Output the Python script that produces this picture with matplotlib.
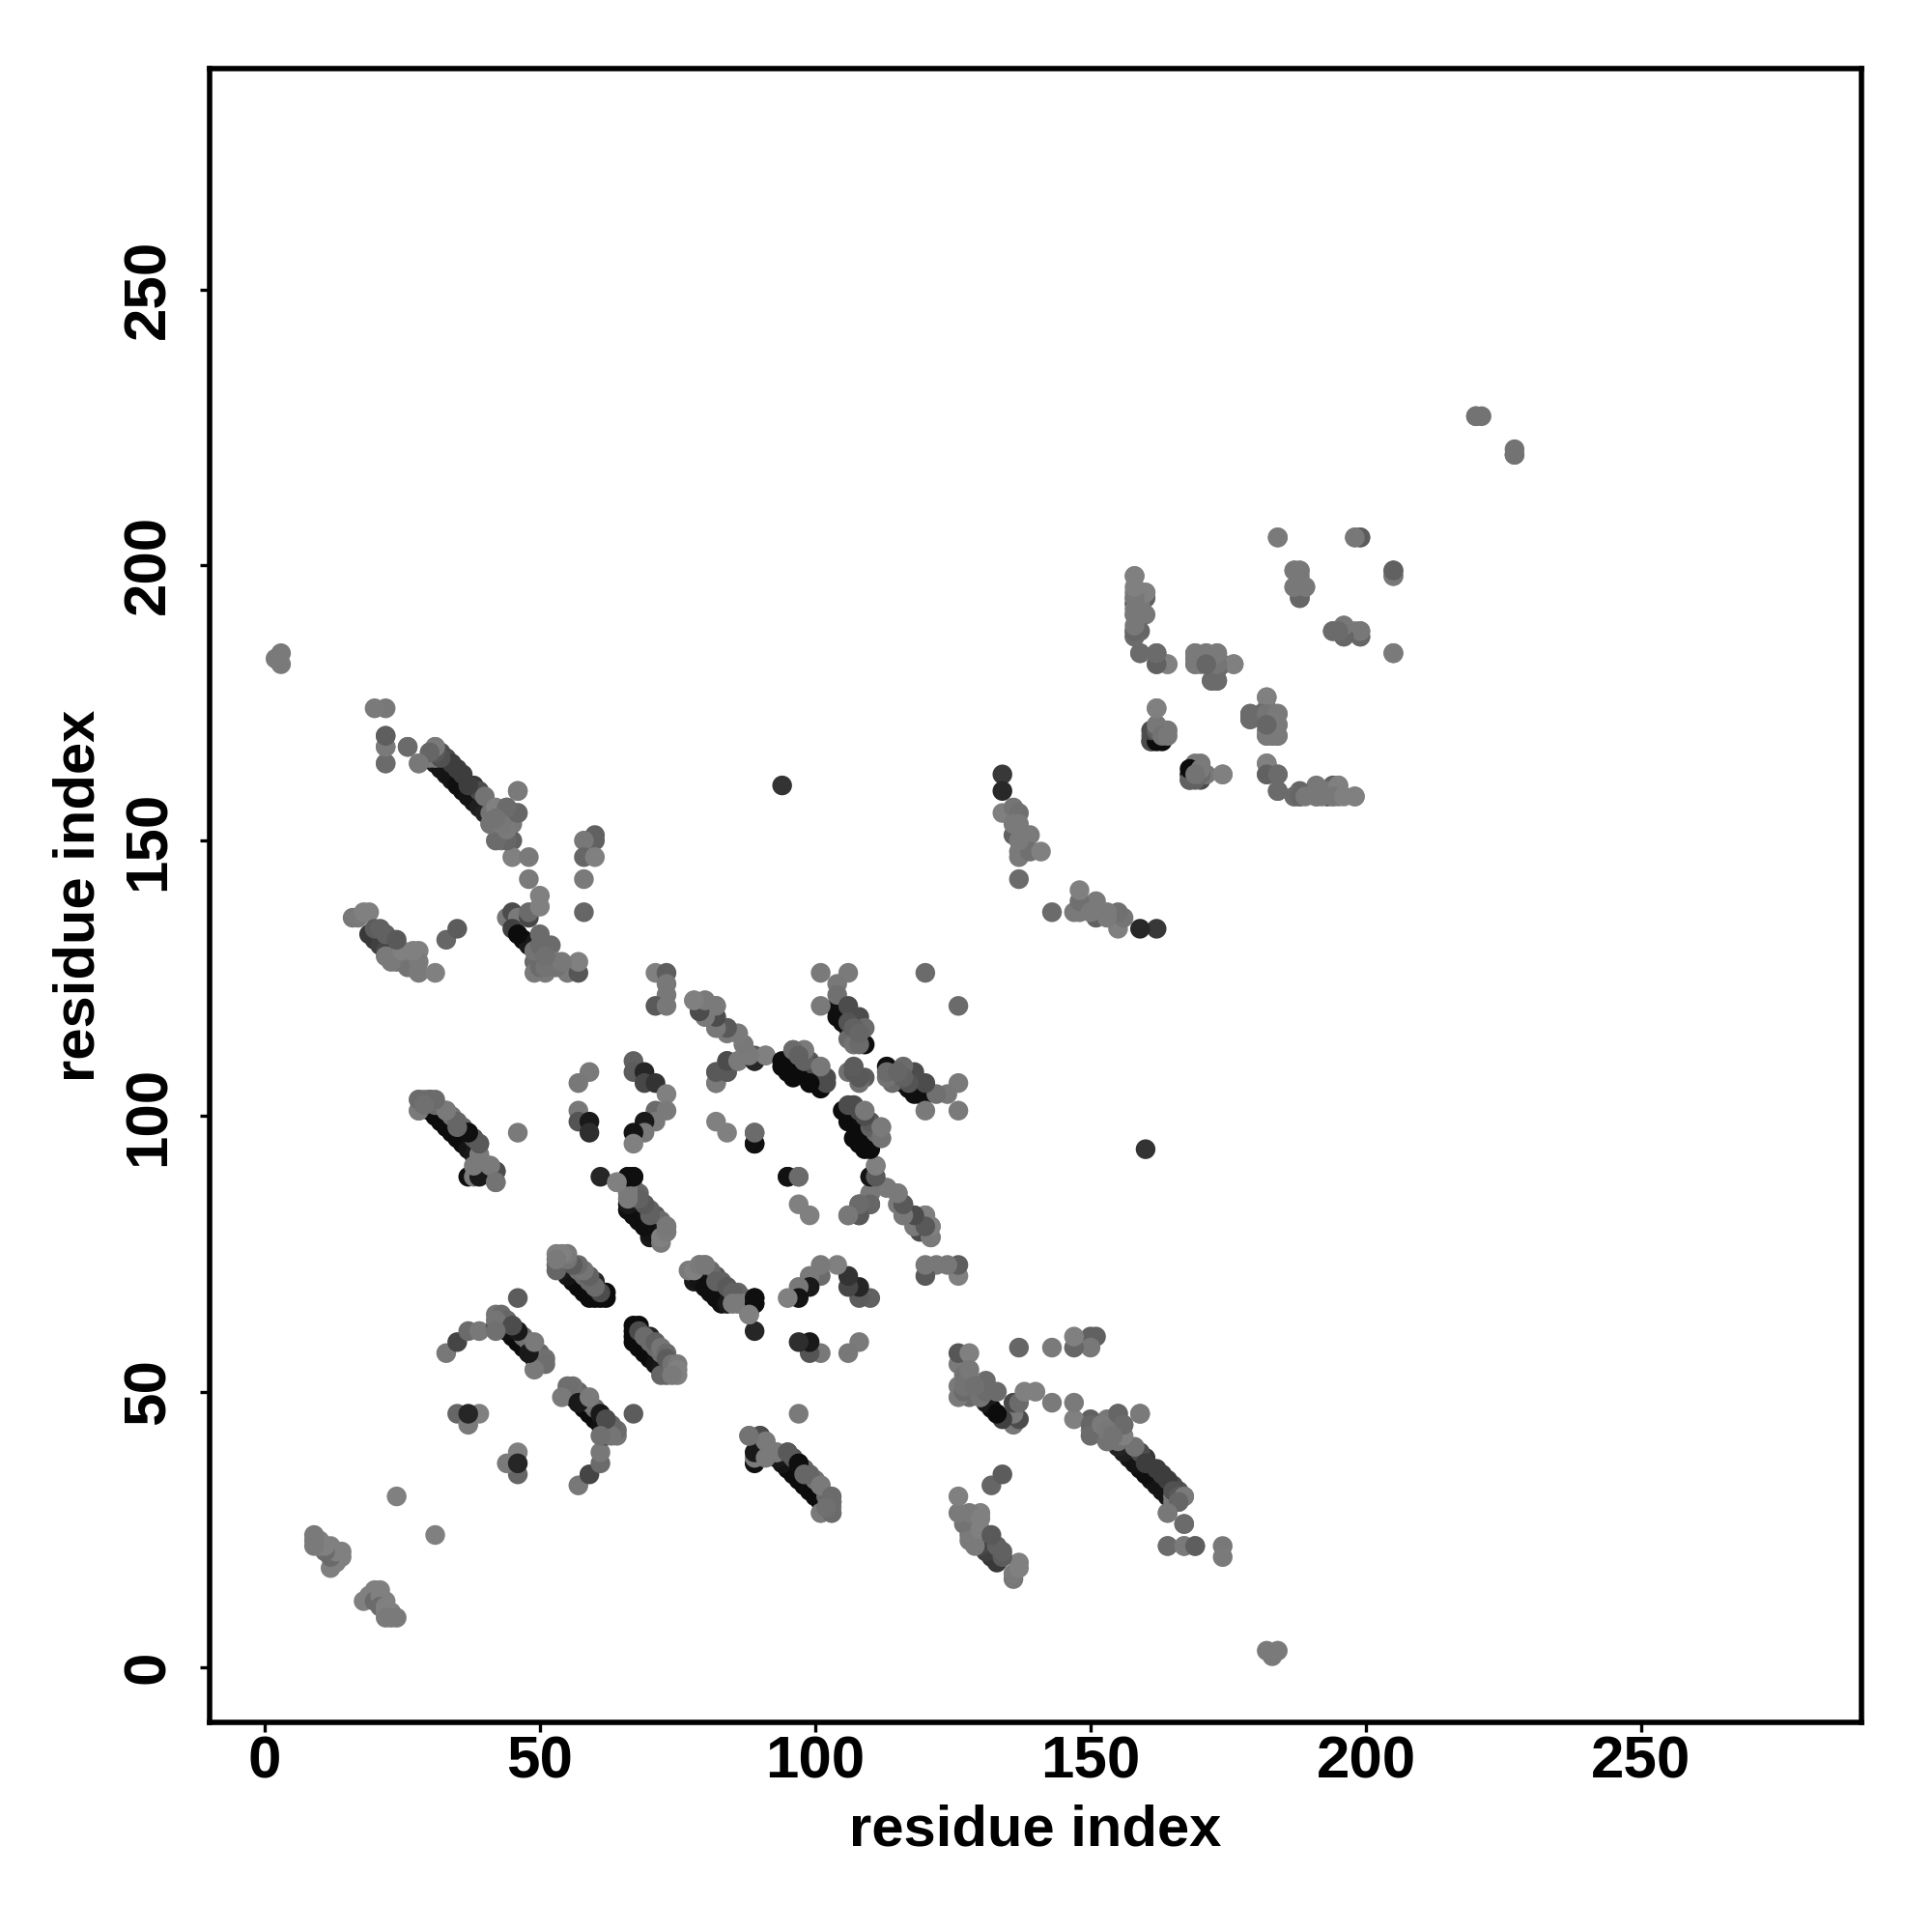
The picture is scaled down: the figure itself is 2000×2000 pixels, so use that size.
import matplotlib
matplotlib.use('Agg')
from matplotlib import pyplot as plt

# contacts, one triangle only: each one is drawn as (i, j) and (j, i)
# i, j = residue index, s = grey level
i_ends = [3, 3, 2]
j_ends = [182, 184, 183]
s_ends = [.48, .48, .48]

i_nterm = [18, 19, 20, 21, 20, 21, 22, 21, 22, 22, 23, 22, 23, 24, 31]
j_nterm = [12, 13, 14, 14, 12, 13, 12, 11, 11, 10, 10, 9, 9, 9, 24]
s_nterm = [.5, .5, .5, .5, .42, .5, .5, .42, .5, .5, .5, .48, .48, .48, .5]

i_16 = [19, 20, 21, 22, 23, 24, 26, 28, 28, 28, 31, 22, 23, 25, 27, 16, 17, 18, 19, 20, 21, 22, 24, 33, 35]
j_16 = [133, 132, 131, 130, 129, 128, 127, 130, 128, 126, 126, 129, 128, 130, 130, 136, 136, 137, 137, 134, 134, 133, 132, 132, 134]
s_16 = [.22, .22, .25, .28, .4, .45, .45, .5, .48, .48, .5, .48, .48, .5, .5, .47, .48, .5, .5, .36, .38, .38, .35, .4, .36]

i_29 = [22, 22, 22, 26, 28, 31, 32, 33, 34, 35, 36, 37, 38, 39, 40, 30, 31, 31, 32, 33, 34, 35, 36, 38, 39, 40, 41, 42, 42, 43, 44, 46, 45, 45, 43, 43, 46, 45, 48, 48, 30, 32, 37, 41]
j_29 = [169, 167, 164, 167, 164, 164, 163, 162, 161, 160, 159, 158, 157, 156, 155, 166, 165, 167, 166, 165, 164, 163, 162, 160, 159, 158, 155, 156, 154, 152, 156, 155, 153, 150, 150, 152, 159, 147, 147, 143, 165, 165, 160, 153]
s_29 = [.4, .48, .5, .43, .5, .1, .08, .08, .08, .06, .06, .08, .08, .12, .14, .48, .5, .5, .32, .3, .24, .24, .24, .22, .3, .45, .45, .5, .42, .45, .5, .44, .47, .38, .5, .42, .5, .5, .48, .48, .48, .32, .24, .5]

i_28 = [30, 31, 32, 33, 34, 35, 36, 37, 38, 28, 28, 29, 30, 31, 33, 34, 35, 36, 37, 38, 39, 39, 37, 38, 39, 38, 41, 42, 42]
j_28 = [101, 100, 99, 98, 97, 96, 95, 94, 93, 103, 101, 103, 103, 102, 101, 100, 99, 98, 97, 96, 95, 93, 89, 89, 89, 91, 91, 90, 88]
s_28 = [.05, .05, .05, .05, .05, .05, .05, .08, .1, .48, .5, .48, .42, .42, .5, .45, .4, .4, .08, .33, .33, .48, .06, .48, .1, .48, .47, .22, .48]

i_89 = [90, 91, 88, 93, 95, 97, 98, 101, 103, 101, 103, 103, 102]
j_89 = [42, 41, 42, 39, 39, 37, 35, 33, 31, 28, 28, 30, 29]
s_89 = [.3, .48, .45, .48, .35, .06, .4, .48, .42, .48, .42, .42, .44]

i_33 = [33, 35, 37, 39, 35, 39, 37, 37, 46, 46]
j_33 = [57, 59, 61, 61, 46, 46, 44, 46, 67, 97]
s_33 = [.47, .27, .42, .47, .4, .5, .48, .15, .36, .48]

i_42 = [55, 56, 57, 58, 59, 60, 61, 62, 62, 64, 64, 63, 62, 60, 59, 58, 57, 56, 55, 63, 54, 61, 62, 57, 59, 61]
j_42 = [50, 49, 48, 47, 46, 45, 44, 43, 42, 42, 43, 44, 45, 47, 48, 49, 50, 51, 51, 42, 49, 46, 45, 48, 49, 42]
s_42 = [.05, .05, .05, .05, .05, .05, .07, .1, .3, .46, .42, .4, .4, .42, .45, .42, .4, .44, .43, .46, .48, .1, .3, .1, .48, .44]

i_44 = [44, 45, 46, 48, 45, 47, 48, 46, 48, 50, 50, 52, 49, 49, 51, 51, 53, 55, 55, 57, 57, 50, 50, 49, 50, 51, 52, 53, 54, 49, 50, 51]
j_44 = [136, 137, 136, 136, 134, 132, 131, 133, 137, 140, 138, 131, 128, 126, 126, 128, 128, 127, 126, 126, 128, 133, 129, 130, 127, 127, 128, 127, 128, 130, 131, 129]
s_44 = [.47, .3, .48, .28, .25, .05, .1, .05, .42, .5, .5, .42, .42, .48, .48, .5, .5, .48, .48, .34, .5, .42, .42, .45, .42, .45, .45, .45, .47, .45, .42, .44]

i_58 = [60, 60, 58, 58, 60, 58, 58]
j_58 = [151, 150, 150, 147, 147, 143, 137]
s_58 = [.38, .38, .47, .4, .5, .48, .4]

i_66 = [61, 64, 66, 67, 66, 66, 66, 66, 66, 66, 67, 67, 68, 68, 69, 70, 70, 71, 72, 68, 69, 70, 71, 69, 71, 72, 73, 73]
j_66 = [89, 88, 89, 89, 88, 87, 86, 85, 84, 83, 87, 85, 86, 81, 80, 79, 78, 78, 79, 83, 82, 81, 80, 84, 82, 81, 80, 79]
s_66 = [.15, .45, .07, .07, .1, .3, .3, .3, .1, .1, .46, .46, .4, .06, .08, .08, .4, .2, .2, .4, .42, .4, .4, .3, .35, .42, .5, .46]

i_57 = [59, 57, 57, 57, 59, 59]
j_57 = [108, 106, 101, 99, 99, 97]
s_57 = [.48, .47, .47, .33, .1, .18]

i_67 = [67, 67, 67, 68, 69, 70, 71, 72, 73, 72, 68, 67, 70, 68, 69, 70, 71, 72, 71, 72, 73, 73, 74, 75, 75, 75, 74]
j_67 = [61, 60, 59, 58, 57, 56, 55, 54, 53, 53, 62, 62, 60, 61, 60, 59, 58, 57, 59, 58, 57, 56, 55, 55, 54, 53, 53]
s_67 = [.05, .05, .05, .05, .05, .05, .08, .1, .4, .4, .05, .05, .15, .3, .42, .42, .42, .44, .38, .46, .42, .36, .45, .48, .5, .5, .48]

i_ring = [67, 67, 69, 69, 71, 73, 71, 73, 71, 69, 69, 67, 67]
j_ring = [110, 108, 108, 106, 106, 104, 101, 101, 99, 99, 97, 97, 95]
s_ring = [.38, .36, .15, .28, .2, .5, .42, .48, .48, .1, .47, .08, .5]

i_71 = [71, 73, 73, 73, 71, 73]
j_71 = [126, 126, 124, 122, 120, 120]
s_71 = [.5, .37, .47, .47, .35, .47]

i_77 = [78, 78, 79, 80, 81, 82, 83, 84, 77, 78, 79, 80, 82, 83, 84, 85, 85, 86, 87, 88, 89, 89, 88]
j_77 = [71, 70, 70, 69, 68, 67, 66, 66, 72, 72, 73, 73, 70, 70, 69, 68, 66, 66, 66, 66, 67, 66, 64]
s_77 = [.1, .1, .08, .06, .06, .06, .06, .1, .48, .5, .48, .47, .38, .38, .35, .38, .48, .48, .48, .48, .06, .06, .5]

i_78 = [78, 80, 82, 80, 80, 82, 82, 84, 86, 87, 86, 89, 89, 91, 84, 82, 84, 82, 82, 84, 95, 97, 106, 108, 108, 110, 110, 110, 111, 111, 113, 115, 115, 116, 116, 118, 120, 118, 119, 121, 121]
j_78 = [121, 121, 120, 118, 120, 118, 116, 116, 115, 113, 110, 110, 111, 111, 110, 108, 108, 106, 99, 97, 89, 89, 82, 82, 84, 84, 86, 89, 91, 88, 87, 86, 84, 84, 82, 82, 82, 80, 79, 80, 78]
s_78 = [.48, .5, .5, .48, .35, .3, .47, .35, .48, .48, .47, .08, .35, .5, .4, .35, .42, .47, .5, .5, .07, .43, .48, .35, .35, .3, .48, .15, .5, .48, .47, .48, .48, .35, .47, .3, .48, .48, .3, .48, .5]

i_89b = [89, 89, 94]
j_89b = [95, 97, 160]
s_89b = [.07, .42, .2]

i_94 = [94, 95, 96, 97, 98, 99, 100, 101, 106, 94, 95, 96, 97, 98, 99, 100, 101, 102, 102, 96, 98, 110, 112, 112, 111]
j_94 = [110, 110, 110, 109, 108, 107, 106, 105, 99, 109, 108, 107, 111, 110, 110, 109, 108, 107, 106, 112, 112, 98, 98, 96, 97]
s_94 = [.05, .05, .05, .05, .05, .05, .05, .05, .05, .05, .05, .05, .42, .38, .35, .3, .3, .3, .3, .45, .48, .38, .48, .42, .38]

i_101 = [104, 104, 105, 106, 107, 108, 109, 104, 105, 101, 106, 104, 104, 101, 107, 108, 109, 106, 107, 108, 120, 101, 106, 107, 109, 106, 106, 107, 108]
j_101 = [119, 118, 117, 116, 115, 114, 113, 120, 120, 126, 126, 124, 122, 120, 118, 118, 116, 114, 113, 113, 126, 109, 108, 108, 107, 120, 117, 116, 115]
s_101 = [.06, .06, .06, .06, .06, .06, .06, .06, .06, .48, .48, .47, .44, .48, .28, .3, .42, .42, .45, .42, .42, .47, .44, .35, .36, .3, .33, .38, .4]

i_134 = [134, 134, 134, 136, 137, 137, 136, 138, 139, 137, 137, 139, 141, 137, 136, 137]
j_134 = [162, 159, 155, 156, 155, 153, 151, 151, 151, 148, 147, 148, 148, 143, 153, 150]
s_134 = [.22, .16, .5, .46, .44, .48, .38, .48, .48, .48, .48, .44, .5, .42, .48, .48]

i_150 = [150, 150, 152, 153, 155, 156, 159, 166, 167, 166, 164, 167, 164, 167, 169, 174, 174, 153, 154]
j_150 = [44, 42, 44, 41, 46, 44, 46, 31, 31, 30, 28, 26, 22, 22, 22, 22, 20, 43, 42]
s_150 = [.4, .42, .48, .45, .4, .42, .48, .35, .48, .4, .47, .42, .42, .48, .37, .47, .48, .47, .45]

i_158 = [158, 158, 158, 158, 158, 159, 158, 158, 158, 160, 160, 160, 159, 159, 162, 162, 164]
j_158 = [193, 198, 195, 194, 192, 192, 191, 188, 187, 195, 194, 191, 188, 184, 184, 182, 182]
s_158 = [.25, .5, .48, .48, .48, .48, .46, .4, .47, .5, .38, .47, .4, .42, .4, .42, .5]

i_169 = [169, 169, 171, 173, 173, 169, 174, 176, 173, 172, 171, 170]
j_169 = [184, 183, 184, 184, 182, 182, 182, 182, 179, 179, 182, 182]
s_169 = [.45, .45, .48, .48, .3, .45, .42, .5, .4, .4, .45, .45]

i_161 = [162, 161, 161, 163, 162, 163, 162, 168, 168, 170, 170, 170, 171, 174, 169, 169]
j_161 = [174, 169, 168, 168, 170, 170, 169, 161, 162, 161, 164, 162, 162, 162, 163, 164]
s_161 = [.5, .38, .38, .05, .42, .48, .45, .3, .05, .3, .47, .38, .47, .5, .45, .47]

i_179 = [182, 179, 179, 181, 182, 184, 184, 182, 184, 182]
j_179 = [176, 172, 173, 173, 173, 173, 169, 169, 171, 171]
s_179 = [.5, .42, .42, .42, .46, .48, .48, .48, .48, .4]

i_182 = [182, 182, 184, 184, 187, 188, 189, 191, 193, 195, 191, 194, 196, 198]
j_182 = [164, 162, 162, 159, 158, 158, 158, 159, 159, 160, 158, 158, 158, 158]
s_182 = [.5, .38, .42, .42, .42, .4, .47, .47, .47, .5, .47, .47, .5, .5]

i_187 = [187, 188, 187, 189, 188, 188, 194, 196, 196, 199, 199, 198]
j_187 = [199, 199, 196, 196, 194, 195, 188, 189, 187, 188, 187, 188]
s_187 = [.4, .47, .4, .47, .42, .42, .4, .47, .47, .47, .47, .47]

i_205 = [184, 198, 199, 205, 205, 184, 220, 221, 227]
j_205 = [205, 205, 205, 199, 198, 205, 227, 227, 220]
s_205 = [.48, .47, .38, .36, .47, .48, .45, .45, .45]

clusters = [
    (i_ends, j_ends, s_ends), (i_nterm, j_nterm, s_nterm), (i_16, j_16, s_16),
    (i_29, j_29, s_29), (i_28, j_28, s_28), (i_89, j_89, s_89), (i_33, j_33, s_33),
    (i_42, j_42, s_42), (i_44, j_44, s_44), (i_58, j_58, s_58), (i_66, j_66, s_66),
    (i_57, j_57, s_57), (i_67, j_67, s_67), (i_ring, j_ring, s_ring), (i_71, j_71, s_71),
    (i_77, j_77, s_77), (i_78, j_78, s_78), (i_89b, j_89b, s_89b), (i_94, j_94, s_94),
    (i_101, j_101, s_101), (i_134, j_134, s_134), (i_150, j_150, s_150),
    (i_158, j_158, s_158), (i_169, j_169, s_169), (i_161, j_161, s_161),
    (i_179, j_179, s_179), (i_182, j_182, s_182), (i_187, j_187, s_187), (i_205, j_205, s_205),
]

ticks = [0, 50, 100, 150, 200, 250]

plt.rcParams['font.family'] = ['Liberation Sans', 'DejaVu Sans']
plt.rcParams['font.weight'] = 'bold'

fig = plt.figure(figsize=(10, 10), dpi=200)
ax = fig.add_axes([0.1084, 0.1085, 0.8551, 0.8558])

for i, j, s in clusters:
    ax.scatter(i, j, c=s, cmap='gray', vmin=0, vmax=1, s=54, linewidths=0, zorder=3)
    ax.scatter(j, i, c=s, cmap='gray', vmin=0, vmax=1, s=54, linewidths=0, zorder=3)

ax.set_xlim(-10, 290)
ax.set_ylim(-10, 290)
ax.set_xticks(ticks)
ax.set_yticks(ticks)
ax.tick_params(length=3.6, width=1.2, labelsize=22.3)
ax.tick_params(axis='x', pad=1.3)
ax.tick_params(axis='y', pad=8.5)
plt.setp(ax.get_yticklabels(), rotation=90, va='center')
for side in ax.spines.values():
    side.set_linewidth(2.0)

ax.set_xlabel('residue index', fontsize=21.5, fontweight='bold')
ax.set_ylabel('residue index', fontsize=21.5, fontweight='bold')
ax.xaxis.set_label_coords(0.5, -0.0496)
ax.yaxis.set_label_coords(-0.0625, 0.5)

fig.savefig('out.png', dpi=200)
